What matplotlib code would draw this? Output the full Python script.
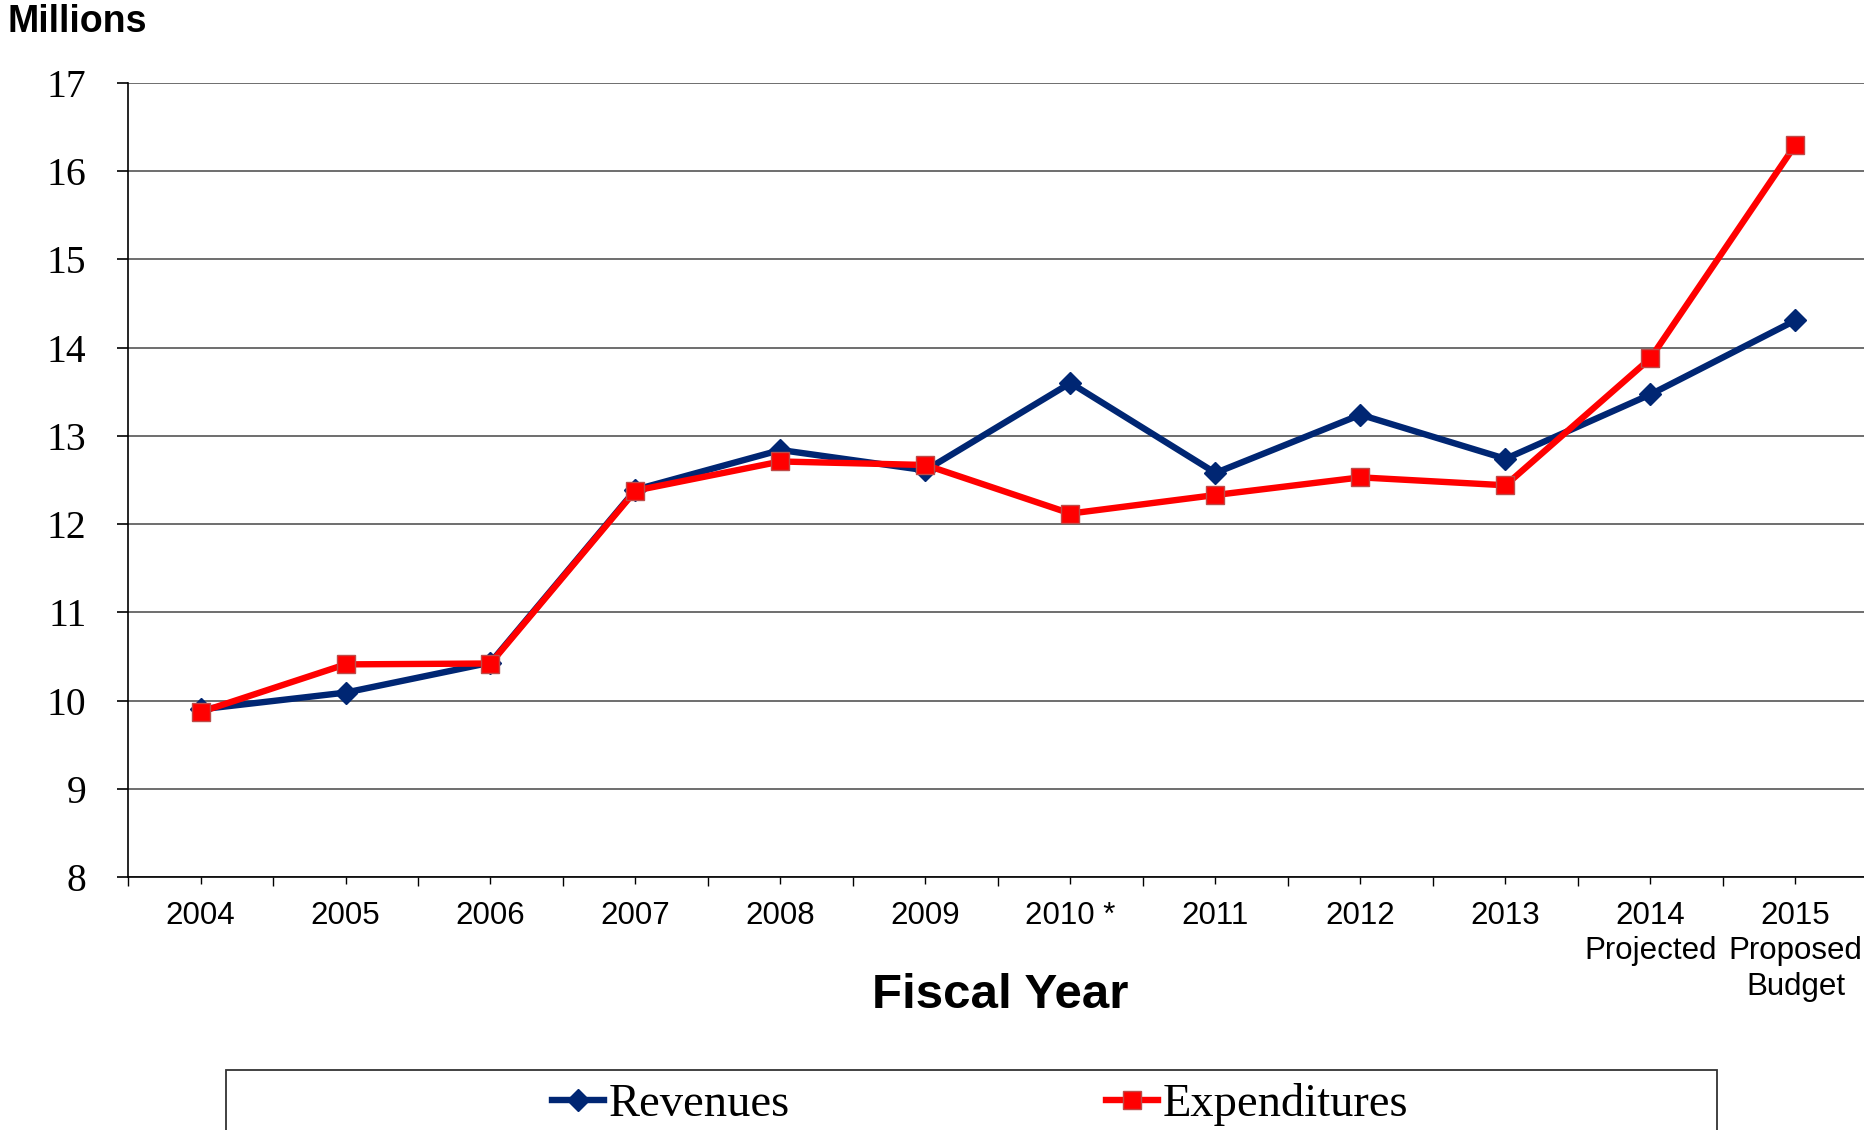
import numpy as np
import matplotlib
matplotlib.use("Agg")
import matplotlib.pyplot as plt
from matplotlib.patches import Rectangle

years = ["2004", "2005", "2006", "2007", "2008", "2009", "2010 *", "2011",
         "2012", "2013", "2014\nProjected", "2015\nProposed\nBudget"]
revenues = [9.90, 10.09, 10.43, 12.39, 12.84, 12.61, 13.60, 12.58, 13.24, 12.74, 13.47, 14.31]
expenditures = [9.87, 10.41, 10.42, 12.38, 12.71, 12.67, 12.12, 12.33, 12.53, 12.44, 13.88, 16.30]

navy = '#002673'
red = '#FF0000'
W, H = 1864, 1130

fig = plt.figure(figsize=(W / 100, H / 100), dpi=100)
ax = fig.add_axes([128 / W, 1 - 877 / H, 1740 / W, 794 / H])

x = np.arange(len(years))
ax.plot(x, revenues, color=navy, lw=4.6, marker='D', markersize=11,
        markeredgecolor=navy, label='Revenues', zorder=3)
ax.plot(x, expenditures, color=red, lw=4.6, marker='s', markersize=13,
        markerfacecolor=red, markeredgecolor='#BE4B48', markeredgewidth=1,
        label='Expenditures', zorder=4)

ax.set_xlim(-0.5, len(years) - 0.5)
ax.set_ylim(8, 17)
ax.set_yticks(range(8, 18))
ax.set_yticklabels([str(v) for v in range(8, 18)], fontfamily='Liberation Serif', fontsize=28.5)
ax.tick_params(axis='y', direction='out', length=8, width=1.2, pad=22, color='black')

# boundary ticks (major, no labels) and category labels on minor ticks
ax.set_xticks(np.arange(-0.5, len(years), 1))
ax.set_xticklabels([])
ax.set_xticks(x, minor=True)
ax.set_xticklabels(years, minor=True, fontfamily='Liberation Sans', fontsize=22.5,
                   linespacing=1.25)
ax.tick_params(axis='x', which='major', direction='out', length=6.5, width=1)
ax.tick_params(axis='x', which='minor', direction='out', length=5, width=1, pad=12)

ax.yaxis.grid(True, color='#555555', lw=1.2)
ax.set_axisbelow(True)
for side in ['top', 'right']:
    ax.spines[side].set_visible(False)
ax.spines['left'].set_linewidth(1.2)
ax.spines['bottom'].set_linewidth(1.2)

fig.text(7 / W, 1 - 32 / H, "Millions", fontfamily='Liberation Sans', fontweight='bold',
         fontsize=27, va='baseline', ha='left')
fig.text(1000 / W, 1 - 996 / H, "Fiscal Year", fontfamily='Liberation Sans', fontweight='bold',
         fontsize=35.5, va='center', ha='center')

# legend box runs off the bottom of the figure
fig.patches.append(Rectangle((226 / W, -0.05), 1491 / W, 0.05 + 60 / H,
                             transform=fig.transFigure, fill=False,
                             edgecolor='#333333', lw=1.3))
fig.legend(loc='center', bbox_to_anchor=(980 / W, 1 - 1105 / H), ncol=2, frameon=False,
           prop={'family': 'Liberation Serif', 'size': 33.5},
           handlelength=1.12, handletextpad=0.1, columnspacing=6.8, borderpad=0)

fig.savefig("out.png", dpi=100)
